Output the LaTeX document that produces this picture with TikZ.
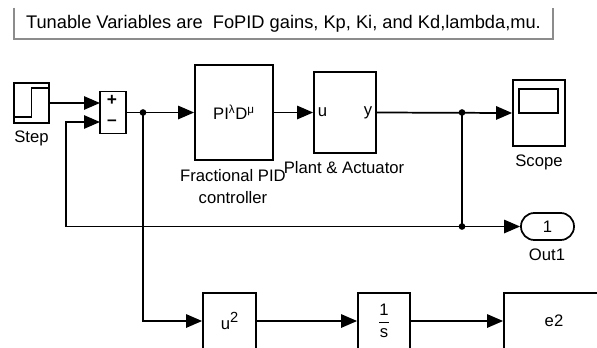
\documentclass[tikz,border=0pt]{standalone}
\usepackage{fontspec}
\setmainfont{Liberation Sans}
\usetikzlibrary{arrows.meta}
\usetikzlibrary{positioning}

\begin{document}
\begin{tikzpicture}[
    x=0.75pt, y=-0.75pt, >={Triangle[length=12pt,width=10pt]},
    % block styles
    block/.style={
        rectangle,
        draw=black,
        fill=white,
        line width=1.3pt,
        inner sep=0pt,
        font=\fontsize{12.5}{15}\selectfont
    },
    outport/.style={
        block,
        rounded corners=10pt
    },
    junction/.style={
        circle,
        fill=black,
        inner sep=0pt,
        minimum size=5pt
    },
    % signal styles
    signal/.style={->, draw=black, line width=1.3pt},
    wire/.style={draw=black, line width=1.3pt},
    % label styles
    block label/.style={
        align=center,
        font=\fontsize{12.5}{16.5}\selectfont
    },
    sign/.style={
        inner sep=0pt,
        text height=5pt,
        text depth=0pt,
        font=\fontsize{13}{13}\selectfont
    },
    note/.style={
        inner sep=0pt,
        minimum width=404.25pt,
        minimum height=23.25pt,
        font=\fontsize{13.7}{15}\selectfont
    },
    note border/.style={draw=black!45, line width=1.2pt}
]
\useasboundingbox (0,0) rectangle (597,347);

% -------------------------------
% Annotation
\node[note] (note) at (283.5,23.5) {Tunable Variables are\ \ FoPID gains, Kp, Ki, and Kd,lambda,mu.};
\draw[note border] (note.north west) -- (note.south west) -- (note.south east) -- (note.north east);

% -------------------------------
% Forward path
\node[block, minimum width=26.25pt, minimum height=30pt] (step) at (31.5,103) {};
\draw[wire, line width=1pt] (15,117) -- (31.5,117) -- (31.5,88) -- (48,88);

\node[block, minimum width=19.5pt, minimum height=31.5pt] (sum) at (113,112.5) {};
\coordinate (sum-in1) at (100,103);
\coordinate (sum-in2) at (100,122);
\node[sign] (sum-plus) at (112,102) {\textbf{+}};
\node[sign] (sum-minus) at (112,122) {\textbf{–}};

\node[block, minimum width=58.5pt, minimum height=71.25pt] (pid) at (234,112.5) {PI\textsuperscript{λ}D\textsuperscript{μ}};

\node[block, minimum width=46.5pt, minimum height=60.75pt] (plant) at (345,112.5) {};
\node[block label, anchor=west] (plant-u) at (plant.west) {u};
\node[block label, anchor=east] (plant-y) at (plant.east) {y};

\node[block, minimum width=39pt, minimum height=49.5pt] (scope) at (539,113) {};
\node[block, minimum width=29.25pt, minimum height=18pt] (screen) at (538.5,101) {};

\node[outport, minimum width=39.75pt, minimum height=20.25pt] (out1) at (547.5,226.5) {1};

% -------------------------------
% Error branch
\node[block, minimum width=39.75pt, minimum height=42pt] (usq) at (229.5,321) {u\raisebox{5pt}{\fontsize{11}{12}\selectfont 2}};
\node[block, minimum width=39pt, minimum height=42pt] (integ) at (384,321) {$\displaystyle\frac{\mbox{1}}{\mbox{s}}$};
\node[block, minimum width=75pt, minimum height=42pt] (e2) at (554,321) {e2};

% -------------------------------
% Junctions
\node[junction] (j1) at (143,112.5) {};
\node[junction] (j2) at (462,112.5) {};
\node[junction] (j3) at (462,226.5) {};
\coordinate (fb) at (66,226.5);

% -------------------------------
% Signals
\draw[signal] (step.east |- sum-in1) -- (sum-in1);
\draw[signal] (sum.east) -- (pid.west);
\draw[signal] (pid.east) -- (plant.west);
\draw[signal] (plant.east) -- (scope.west);
\draw[signal] (j2.center) -- (j3.center) -- (out1.west);
\draw[signal] (j3.center) -- (fb) |- (sum-in2);
\draw[signal] (j1.center) |- (usq.west);
\draw[signal] (usq.east) -- (integ.west);
\draw[signal] (integ.east) -- (e2.west);

% -------------------------------
% Block labels
\node[block label] (step-label) at (31.5,138) {Step};
\node[block label] (pid-label) at (233,187) {Fractional PID\\controller};
\node[block label] (plant-label) at (344,168) {Plant \& Actuator};
\node[block label] (scope-label) at (539,162) {Scope};
\node[block label] (out1-label) at (547,255) {Out1};

\end{tikzpicture}
\end{document}
